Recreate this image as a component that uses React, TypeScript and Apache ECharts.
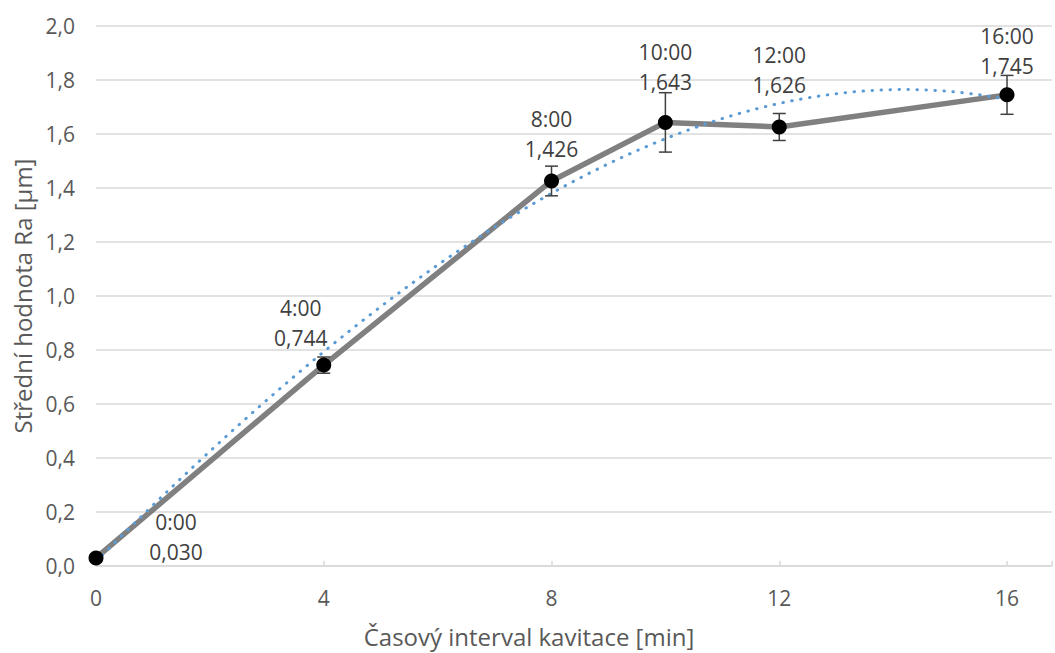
import React, { useEffect, useRef } from "react";
import * as echarts from "echarts";

// ---- data ----
const xValues = [0, 4, 8, 10, 12, 16];
const raValues = [0.03, 0.744, 1.426, 1.643, 1.626, 1.745];
const errValues = [0.01, 0.03, 0.055, 0.11, 0.05, 0.072];
const timeLabels = ["0:00", "4:00", "8:00", "10:00", "12:00", "16:00"];
const trendOrder = 3;

const FONT = "'Open Sans', 'Noto Sans', sans-serif";

// least-squares polynomial fit (Excel-like trendline)
function polyfit(xs: number[], ys: number[], order: number): number[] {
  const n = order + 1;
  const A: number[][] = [];
  for (let i = 0; i < n; i++) {
    const row: number[] = [];
    for (let j = 0; j < n; j++) {
      let s = 0;
      for (const x of xs) s += Math.pow(x, i + j);
      row.push(s);
    }
    let r = 0;
    xs.forEach((x, k) => (r += Math.pow(x, i) * ys[k]));
    row.push(r);
    A.push(row);
  }
  for (let c = 0; c < n; c++) {
    let p = c;
    for (let r = c + 1; r < n; r++) if (Math.abs(A[r][c]) > Math.abs(A[p][c])) p = r;
    [A[c], A[p]] = [A[p], A[c]];
    for (let r = 0; r < n; r++) {
      if (r === c) continue;
      const f = A[r][c] / A[c][c];
      for (let k = c; k <= n; k++) A[r][k] -= f * A[c][k];
    }
  }
  return A.map((row, i) => row[n] / row[i]);
}

function fmt(v: number, d: number) {
  return v.toFixed(d).replace(".", ",");
}

export default function App() {
  const ref = useRef<HTMLDivElement>(null);
  useEffect(() => {
    if (!ref.current) return;
    const chart = echarts.init(ref.current, null, { renderer: "svg" });

    const coef = polyfit(xValues, raValues, trendOrder);
    const x0 = xValues[0];
    const x1 = xValues[xValues.length - 1];
    const trend: number[][] = [];
    for (let i = 0; i <= 160; i++) {
      const x = x0 + ((x1 - x0) * i) / 160;
      let y = 0;
      coef.forEach((c, k) => (y += c * Math.pow(x, k)));
      trend.push([x, y]);
    }

    const labelOffsets = [
      [80, 21.5],
      [-23, 0],
      [0, -4],
      [0, -13],
      [0, -14],
      [0, -1],
    ];

    const points = xValues.map((x, i) => ({
      value: [x, raValues[i]],
      label: { offset: labelOffsets[i] },
    }));

    chart.setOption({
      animation: false,
      grid: { left: 96, right: 0, top: 26, bottom: 84 },
      xAxis: {
        type: "value",
        min: 0,
        max: 16.79,
        interval: 4,
        name: "Časový interval kavitace [min]",
        nameLocation: "middle",
        nameGap: 58,
        nameTextStyle: { fontFamily: FONT, fontSize: 24, color: "#595959", padding: [0, 90, 0, 0] },
        axisLine: { show: true, lineStyle: { color: "#d9d9d9", width: 1.5 } },
        axisTick: { show: true, inside: true, length: 5, lineStyle: { color: "#d9d9d9", width: 1.5 } },
        splitLine: { show: false },
        axisLabel: {
          fontFamily: FONT,
          fontSize: 21,
          color: "#595959",
          margin: 21,
          formatter: (v: number) => (v % 4 === 0 ? String(v) : ""),
        },
      },
      yAxis: {
        type: "value",
        min: 0,
        max: 2,
        interval: 0.2,
        name: "Střední hodnota Ra [µm]",
        nameLocation: "middle",
        nameGap: 62,
        nameTextStyle: { fontFamily: FONT, fontSize: 24, color: "#595959" },
        axisLine: { show: false },
        axisTick: { show: false },
        splitLine: { lineStyle: { color: "#d9d9d9", width: 1.5 } },
        axisLabel: {
          fontFamily: FONT,
          fontSize: 21,
          color: "#595959",
          margin: 21,
          formatter: (v: number) => fmt(v, 1),
        },
      },
      series: [
        {
          type: "line",
          data: xValues.map((x, i) => [x, raValues[i]]),
          symbol: "none",
          lineStyle: { color: "#808080", width: 5.5 },
          z: 2,
        },
        {
          type: "line",
          data: trend,
          symbol: "none",
          smooth: false,
          lineStyle: { color: "#5b9bd5", width: 3, type: [0.5, 8.5], cap: "round" },
          z: 3,
        },
        {
          type: "custom",
          data: xValues.map((x, i) => [x, raValues[i], errValues[i]]),
          z: 4,
          renderItem: (params: any, api: any) => {
            const x = api.value(0);
            const y = api.value(1);
            const e = api.value(2);
            const top = api.coord([x, y + e]);
            const bot = api.coord([x, y - e]);
            const hw = 6.5;
            const style = { stroke: "#404040", lineWidth: 1.5 };
            return {
              type: "group",
              children: [
                { type: "line", shape: { x1: top[0], y1: top[1], x2: bot[0], y2: bot[1] }, style },
                { type: "line", shape: { x1: top[0] - hw, y1: top[1], x2: top[0] + hw, y2: top[1] }, style },
                { type: "line", shape: { x1: bot[0] - hw, y1: bot[1], x2: bot[0] + hw, y2: bot[1] }, style },
              ],
            };
          },
        },
        {
          type: "scatter",
          data: points,
          symbol: "circle",
          symbolSize: 15,
          itemStyle: { color: "#000000", opacity: 1 },
          z: 5,
          label: {
            show: true,
            position: "top",
            distance: 5,
            fontFamily: FONT,
            fontSize: 21,
            lineHeight: 30,
            color: "#404040",
            align: "center",
            formatter: (p: any) => timeLabels[p.dataIndex] + "\n" + fmt(p.value[1], 3),
          },
        },
      ],
    });
    return () => chart.dispose();
  }, []);
  return (
    <div
      ref={ref}
      style={{ position: "fixed", left: 0, top: 0, width: 1055, height: 653, background: "#ffffff" }}
    />
  );
}
